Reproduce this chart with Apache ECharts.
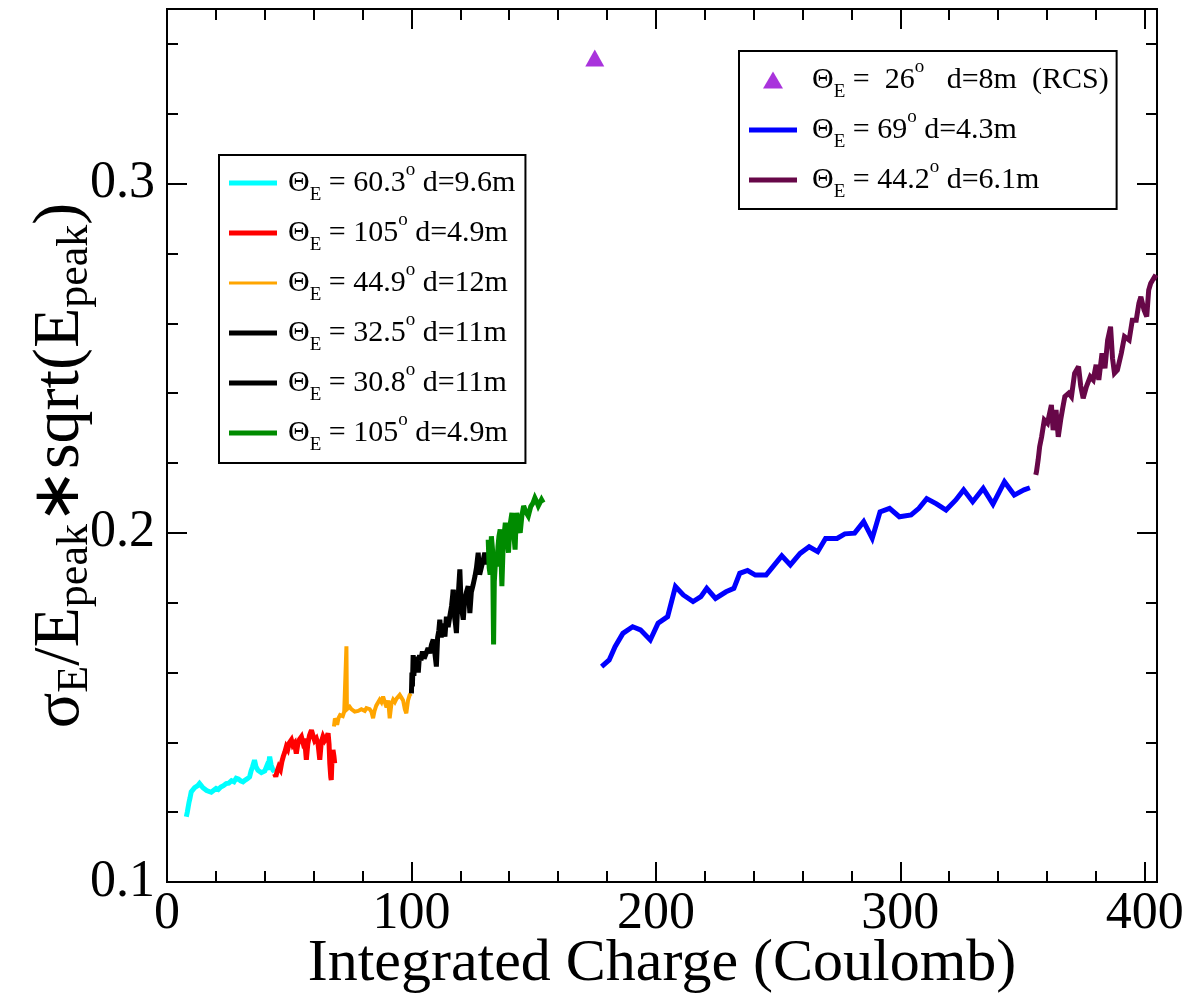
<!DOCTYPE html>
<html>
<head>
<meta charset="utf-8">
<script src="https://cdn.jsdelivr.net/npm/echarts@6/dist/echarts.min.js"></script>
<style>html,body{margin:0;padding:0;background:#fff}#c{width:1190px;height:995px}</style>
</head>
<body>
<div id="c"></div>
<script>
// ---- data (x: integrated charge [C], y: sigma_E/E_peak*sqrt(E_peak)) ----
const rcsPoint = [[175, 0.336]];
const cyan = [[7.9,0.1187],[8.3,0.1200],[8.6,0.1212],[9.0,0.1228],[9.4,0.1240],[9.9,0.1258],[10.5,0.1262],[11.3,0.1270],[12.0,0.1266],[12.6,0.1276],[13.3,0.1282],[14.0,0.1276],[14.7,0.1270],[15.4,0.1266],[16.2,0.1262],[17.0,0.1258],[18.1,0.1257],[19.0,0.1262],[20.1,0.1268],[21.0,0.1265],[22.0,0.1272],[23.1,0.1276],[24.2,0.1282],[25.3,0.1283],[26.4,0.1290],[27.4,0.1287],[28.3,0.1297],[29.2,0.1295],[30.1,0.1290],[31.1,0.1287],[32.0,0.1292],[32.9,0.1296],[33.8,0.1301],[34.4,0.1318],[35.0,0.1330],[35.8,0.1349],[36.4,0.1330],[37.2,0.1320],[38.0,0.1325],[38.6,0.1313],[39.3,0.1311],[40.0,0.1318],[40.7,0.1330],[41.3,0.1322],[42.0,0.1359],[42.6,0.1335],[43.4,0.1320],[44.0,0.1316]];
const red = [[44.0,0.1310],[44.5,0.1302],[45.1,0.1318],[45.7,0.1330],[46.4,0.1322],[47.0,0.1345],[47.6,0.1360],[48.2,0.1372],[48.8,0.1387],[49.4,0.1380],[50.0,0.1398],[50.9,0.1407],[51.5,0.1392],[52.2,0.1398],[52.9,0.1368],[53.5,0.1395],[54.2,0.1408],[55.0,0.1416],[55.6,0.1400],[56.3,0.1410],[57.0,0.1350],[57.6,0.1395],[58.3,0.1420],[59.1,0.1435],[59.7,0.1420],[60.4,0.1405],[61.1,0.1411],[61.8,0.1395],[62.5,0.1350],[63.1,0.1400],[63.8,0.1416],[64.5,0.1405],[65.2,0.1412],[65.9,0.1426],[66.3,0.1395],[66.6,0.1340],[67.0,0.1300],[67.2,0.1292],[67.5,0.1350],[67.9,0.1378],[68.3,0.1360],[68.6,0.1340]];
const orange = [[68.3,0.1445],[68.7,0.1468],[69.2,0.1462],[69.6,0.1450],[70.2,0.1470],[70.8,0.1478],[71.3,0.1483],[71.9,0.1475],[72.5,0.1488],[73.1,0.1493],[73.4,0.1675],[73.6,0.1495],[74.2,0.1490],[74.7,0.1502],[75.4,0.1495],[76.1,0.1492],[76.8,0.1488],[77.5,0.1483],[78.2,0.1490],[78.9,0.1488],[79.5,0.1495],[80.2,0.1493],[80.9,0.1490],[81.6,0.1498],[82.3,0.1502],[82.9,0.1495],[83.6,0.1488],[84.3,0.1469],[84.9,0.1490],[85.6,0.1505],[86.3,0.1510],[87.0,0.1522],[87.7,0.1515],[88.4,0.1531],[89.1,0.1515],[89.8,0.1500],[90.5,0.1520],[91.1,0.1469],[91.8,0.1510],[92.5,0.1522],[93.2,0.1515],[93.9,0.1525],[94.5,0.1530],[95.2,0.1536],[95.9,0.1528],[96.6,0.1520],[97.3,0.1495],[97.9,0.1483],[98.6,0.1520],[99.3,0.1536],[99.9,0.1540]];
const black1 = [[100.0,0.1540],[100.2,0.1600],[100.4,0.1560],[100.7,0.1650],[101.0,0.1590],[101.4,0.1640],[101.8,0.1617],[102.3,0.1645],[102.8,0.1600],[103.3,0.1650],[103.9,0.1635],[104.5,0.1660],[105.2,0.1640],[106.1,0.1656],[106.8,0.1670],[107.5,0.1655],[108.2,0.1680],[108.9,0.1694],[109.5,0.1660],[110.2,0.1617],[110.7,0.1700],[111.2,0.1720],[111.6,0.1751],[112.2,0.1700],[112.8,0.1740],[113.7,0.1703],[114.3,0.1760],[115.0,0.1730],[115.7,0.1761],[116.4,0.1790],[117.1,0.1837]];
const black2 = [[117.1,0.1837],[117.6,0.1760],[118.0,0.1740],[118.4,0.1713],[118.9,0.1790],[119.4,0.1850],[119.8,0.1895],[120.3,0.1800],[120.8,0.1770],[121.2,0.1751],[121.8,0.1810],[122.5,0.1830],[123.2,0.1847],[123.9,0.1770],[124.5,0.1830],[125.2,0.1850],[126.0,0.1876],[126.6,0.1900],[127.3,0.1943],[127.9,0.1880],[128.7,0.1904],[129.3,0.1920],[130.0,0.1943],[130.7,0.1910],[131.4,0.1923]];
const green = [[131.4,0.1980],[131.8,0.1900],[132.2,0.1880],[132.7,0.1990],[133.2,0.1950],[133.6,0.1680],[133.9,0.1860],[134.4,0.1920],[134.9,0.1904],[135.4,0.1960],[135.8,0.1990],[136.3,0.2010],[136.7,0.1920],[137.0,0.1847],[137.5,0.1960],[138.0,0.2000],[138.4,0.2029],[139.0,0.1990],[139.7,0.1943],[140.3,0.2020],[141.1,0.2057],[141.7,0.2010],[142.4,0.1952],[142.8,0.2030],[143.1,0.2057],[143.8,0.2020],[144.5,0.2000],[145.2,0.2050],[145.9,0.2077],[146.8,0.2060],[147.8,0.2048],[148.8,0.2075],[149.7,0.2085],[150.5,0.2100],[151.2,0.2090],[151.9,0.2077],[152.6,0.2077],[153.2,0.2095],[153.9,0.2086]];
const blue = [[177.8,0.1617],[180.9,0.1636],[183.3,0.1674],[186.5,0.1712],[190.5,0.1731],[193.7,0.1722],[197.7,0.1693],[200.9,0.1741],[204.8,0.1760],[208.0,0.1846],[211.2,0.1822],[215.2,0.1803],[218.4,0.1817],[220.8,0.1841],[224.4,0.1812],[228.7,0.1831],[231.9,0.1841],[234.3,0.1884],[237.5,0.1892],[240.7,0.1879],[245.1,0.1879],[247.9,0.1903],[251.5,0.1934],[255.0,0.1908],[259.0,0.1941],[262.7,0.1960],[266.2,0.1946],[269.4,0.1984],[274.1,0.1984],[277.3,0.1997],[281.3,0.1999],[285.0,0.2032],[288.5,0.1984],[291.7,0.2060],[295.6,0.2070],[299.6,0.2046],[304.4,0.2051],[307.6,0.2070],[310.8,0.2098],[314.8,0.2083],[318.7,0.2065],[322.7,0.2094],[325.9,0.2123],[329.6,0.2089],[333.9,0.2127],[337.9,0.2082],[342.6,0.2146],[346.6,0.2108],[350.6,0.2123],[353.0,0.2129]];
const maroon = [[355.4,0.2166],[355.7,0.2175],[356.4,0.2210],[357.0,0.2247],[357.8,0.2275],[358.9,0.2323],[360.2,0.2314],[361.0,0.2340],[361.8,0.2366],[362.5,0.2294],[363.7,0.2352],[364.6,0.2275],[365.7,0.2328],[366.5,0.2360],[367.3,0.2390],[368.9,0.2400],[370.0,0.2390],[371.3,0.2457],[372.9,0.2476],[373.8,0.2420],[374.8,0.2385],[376.1,0.2418],[377.7,0.2447],[378.9,0.2438],[380.1,0.2481],[381.2,0.2438],[382.5,0.2514],[383.7,0.2471],[384.8,0.2552],[386.0,0.2590],[386.8,0.2500],[387.6,0.2457],[388.8,0.2466],[390.4,0.2514],[391.7,0.2562],[393.6,0.2552],[394.9,0.2609],[396.5,0.2609],[397.6,0.2657],[398.4,0.2676],[399.7,0.2638],[400.8,0.2619],[401.6,0.2695],[402.4,0.2714],[404.0,0.2733],[405.0,0.2729]];

// ---- axis ticks ----
const xMin = 0, xMax = 405, xMajor = 100, xMinor = 20;
const yMin = 0.1, yMax = 0.35, yMajor = 0.1, yMinor = 0.02;

// ---- legend texts ----
const leftAngles = ['60.3', '105', '44.9', '32.5', '30.8', '105'];
const leftDists = ['d=9.6m', 'd=4.9m', 'd=12m', 'd=11m', 'd=11m', 'd=4.9m'];
const rightAngles = [' 26', '69', '44.2'];
const rightDists = ['  d=8m  (RCS)', 'd=4.3m', 'd=6.1m'];

const colors = {cyan:'#00ffff', red:'#ff0000', orange:'#ffa500', black:'#000000', green:'#008b00', blue:'#0000ff', maroon:'#670748', violet:'#9400d3'};

const leftNames = leftAngles.map((a, i) => 'ΘE = ' + a + '° ' + leftDists[i] + (i === 5 ? ' ' : ''));
const rightNames = rightAngles.map((a, i) => 'ΘE = ' + a + '° ' + rightDists[i]);
const richText = {};
leftNames.forEach((n, i) => { richText[n] = '{t|Θ}{sub|E}{t| = ' + leftAngles[i] + '}{sup|o}{t| ' + leftDists[i] + '}'; });
rightNames.forEach((n, i) => { richText[n] = '{t|Θ}{sub|E}{t| = ' + rightAngles[i] + '}{sup|o}{t| ' + rightDists[i] + '}'; });

const serif = '"Liberation Serif", "Times New Roman", serif';
const legendRich = {
  t: {fontSize: 30, fontFamily: serif, color: '#000', lineHeight: 44, verticalAlign: 'middle'},
  sub: {fontSize: 19, fontFamily: serif, color: '#000', lineHeight: 17, verticalAlign: 'bottom'},
  sup: {fontSize: 19, fontFamily: serif, color: '#000', lineHeight: 19, verticalAlign: 'top'}
};
const lineIcon = 'path://M0,0H48V5H0Z';
const thinIcon = 'path://M0,0H48V3H0Z';
const triIcon = 'path://M10,0L20,17L0,17Z';

function lineSeries(name, data, color, width) {
  return {type: 'line', name: name, data: data, symbol: 'none', showSymbol: false,
    lineStyle: {color: color, width: width, join: 'miter', miterLimit: 3}, itemStyle: {color: color},
    xAxisIndex: 0, yAxisIndex: 0, animation: false, z: 3};
}

function xAxisDef(pos, interval, tickLen, withLabels, withName) {
  return {type: 'value', position: pos, min: xMin, max: xMax, interval: interval, gridIndex: 0,
    axisLine: {show: true, onZero: false, lineStyle: {color: '#000', width: 2}},
    axisTick: {show: true, inside: true, length: tickLen, lineStyle: {color: '#000', width: 2}},
    axisLabel: {show: withLabels, fontSize: 52, fontFamily: serif, color: '#000', margin: 6, showMaxLabel: false,
      formatter: v => String(Math.round(v))},
    splitLine: {show: false},
    name: withName ? 'Integrated Charge (Coulomb)' : '', nameLocation: 'middle', nameGap: 52,
    nameTextStyle: {fontSize: 60, fontFamily: serif, color: '#000'}, nameMoveOverlap: false};
}
function yAxisDef(pos, interval, tickLen, withLabels, withName) {
  return {type: 'value', position: pos, min: yMin, max: yMax, interval: interval, gridIndex: 0,
    axisLine: {show: true, onZero: false, lineStyle: {color: '#000', width: 2}},
    axisTick: {show: true, inside: true, length: tickLen, lineStyle: {color: '#000', width: 2}},
    axisLabel: {show: withLabels, fontSize: 52, fontFamily: serif, color: '#000', margin: 12, showMaxLabel: false,
      formatter: v => v.toFixed(1)},
    splitLine: {show: false},
    name: withName ? '{m|σ}{s|E}{m|/E}{s|peak}{m|∗sqrt(E}{s|peak}{m|)}' : '', nameLocation: 'middle', nameGap: 70,
    nameMoveOverlap: false,
    nameTextStyle: {color: '#000', padding: [0, 40, 0, 0], rich: {
      m: {fontSize: 66, fontFamily: serif, color: '#000', lineHeight: 72, verticalAlign: 'middle'},
      s: {fontSize: 44, fontFamily: serif, color: '#000', lineHeight: 30, verticalAlign: 'bottom'}
    }}};
}

const chart = echarts.init(document.getElementById('c'), null, {renderer: 'canvas'});
chart.setOption({
  animation: false,
  backgroundColor: '#fff',
  grid: {left: 167, right: 33, top: 9, bottom: 113, containLabel: false, outerBoundsMode: 'none'},
  xAxis: [
    xAxisDef('bottom', xMajor, 20, true, true),
    xAxisDef('bottom', xMinor, 11, false, false),
    xAxisDef('top', xMajor, 20, false, false),
    xAxisDef('top', xMinor, 11, false, false)
  ],
  yAxis: [
    yAxisDef('left', yMajor, 20, true, true),
    yAxisDef('left', yMinor, 11, false, false),
    yAxisDef('right', yMajor, 20, false, false),
    yAxisDef('right', yMinor, 11, false, false)
  ],
  legend: [
    {show: true, orient: 'vertical', left: 219, top: 155, itemWidth: 48, itemHeight: 17, itemGap: 6,
      padding: [6, 10, 8, 10], borderColor: '#000', borderWidth: 2, backgroundColor: '#fff', selectedMode: false,
      itemStyle: {borderWidth: 0},
      data: leftNames.map((n, i) => ({name: n, icon: i === 2 ? thinIcon : lineIcon})),
      formatter: n => richText[n], textStyle: {rich: legendRich, padding: [0, 0, 0, 6]}},
    {show: true, orient: 'vertical', left: 739, top: 51, itemWidth: 48, itemHeight: 17, itemGap: 6,
      padding: [7, 8, 7, 10], borderColor: '#000', borderWidth: 2, backgroundColor: '#fff', selectedMode: false,
      itemStyle: {borderWidth: 0},
      data: rightNames.map((n, i) => ({name: n, icon: i === 0 ? triIcon : lineIcon})),
      formatter: n => richText[n], textStyle: {rich: legendRich, padding: [0, 0, 0, 10]}}
  ],
  series: [
    {type: 'scatter', name: rightNames[0], data: rcsPoint, symbol: 'triangle', symbolSize: [19, 17],
      itemStyle: {color: colors.violet}, xAxisIndex: 0, yAxisIndex: 0, z: 4},
    lineSeries(leftNames[0], cyan, colors.cyan, 5),
    lineSeries(leftNames[1], red, colors.red, 5),
    lineSeries(leftNames[2], orange, colors.orange, 4),
    lineSeries(leftNames[3], black1, colors.black, 5),
    lineSeries(leftNames[4], black2, colors.black, 5),
    lineSeries(leftNames[5], green, colors.green, 5),
    lineSeries(rightNames[1], blue, colors.blue, 5),
    lineSeries(rightNames[2], maroon, colors.maroon, 5)
  ]
});
</script>
</body>
</html>
